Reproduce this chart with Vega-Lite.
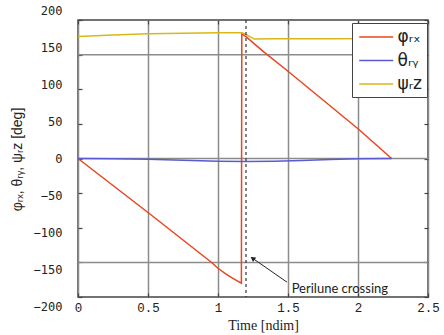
{
  "$schema": "https://vega.github.io/schema/vega-lite/v6.json",
  "width": 350,
  "height": 277,
  "autosize": {"type": "none"},
  "padding": {"left": 78, "top": 20, "right": 16, "bottom": 38},
  "background": "white",
  "config": {
    "view": {"stroke": "#444444", "strokeWidth": 1.5},
    "axis": {"domain": false, "tickColor": "#444444", "tickWidth": 1.2, "tickSize": -4, "labelColor": "#222222", "titleColor": "#222222", "titleFontWeight": "normal"}
  },
  "datasets": {
    "lines": [
      {"t": 0, "v": 0, "s": "φᵣₓ"},
      {"t": 0.5, "v": -78, "s": "φᵣₓ"},
      {"t": 0.95, "v": -149.5, "s": "φᵣₓ"},
      {"t": 1.0, "v": -158.5, "s": "φᵣₓ"},
      {"t": 1.05, "v": -166, "s": "φᵣₓ"},
      {"t": 1.1, "v": -172.5, "s": "φᵣₓ"},
      {"t": 1.167, "v": -180, "s": "φᵣₓ"},
      {"t": 1.17, "v": 180, "s": "φᵣₓ"},
      {"t": 1.2, "v": 176, "s": "φᵣₓ"},
      {"t": 1.32, "v": 155, "s": "φᵣₓ"},
      {"t": 1.5, "v": 126, "s": "φᵣₓ"},
      {"t": 2.0, "v": 43, "s": "φᵣₓ"},
      {"t": 2.24, "v": 0, "s": "φᵣₓ"},
      {"t": 0, "v": 0, "s": "θᵣᵧ"},
      {"t": 0.25, "v": -0.4, "s": "θᵣᵧ"},
      {"t": 0.5, "v": -1, "s": "θᵣᵧ"},
      {"t": 0.75, "v": -2.5, "s": "θᵣᵧ"},
      {"t": 1.0, "v": -3.8, "s": "θᵣᵧ"},
      {"t": 1.2, "v": -4.3, "s": "θᵣᵧ"},
      {"t": 1.4, "v": -4, "s": "θᵣᵧ"},
      {"t": 1.6, "v": -3, "s": "θᵣᵧ"},
      {"t": 1.8, "v": -1.5, "s": "θᵣᵧ"},
      {"t": 2.0, "v": -0.3, "s": "θᵣᵧ"},
      {"t": 2.24, "v": 0, "s": "θᵣᵧ"},
      {"t": 0, "v": 176, "s": "ψᵣz"},
      {"t": 0.25, "v": 178.5, "s": "ψᵣz"},
      {"t": 0.5, "v": 180, "s": "ψᵣz"},
      {"t": 0.75, "v": 181, "s": "ψᵣz"},
      {"t": 1.0, "v": 181.5, "s": "ψᵣz"},
      {"t": 1.17, "v": 181.5, "s": "ψᵣz"},
      {"t": 1.2, "v": 179, "s": "ψᵣz"},
      {"t": 1.26, "v": 172.5, "s": "ψᵣz"},
      {"t": 1.4, "v": 172.8, "s": "ψᵣz"},
      {"t": 1.8, "v": 173, "s": "ψᵣz"},
      {"t": 2.24, "v": 173.3, "s": "ψᵣz"}
    ],
    "hgrid": [{"g": -150}, {"g": 0}, {"g": 150}],
    "vline": [{"x": 1.2}],
    "arrow": [{"t1": 1.493, "v1": -178.6, "t2": 1.236, "v2": -142.5}],
    "head": [{"t": 1.252, "v": -145}],
    "note": [{"t": 1.526, "v": -188.7, "label": "Perilune crossing"}]
  },
  "layer": [
    {
      "data": {"name": "hgrid"},
      "mark": {"type": "rule", "color": "#8c8c8c", "strokeWidth": 1.5},
      "encoding": {
        "y": {
          "field": "g", "type": "quantitative",
          "scale": {"domain": [-200, 200], "nice": false},
          "axis": {"orient": "right", "labels": false, "title": null, "grid": false, "values": [-200, -150, -100, -50, 0, 50, 100, 150, 200]}
        }
      }
    },
    {
      "data": {"name": "lines"},
      "mark": {"type": "line", "strokeWidth": 1.5},
      "encoding": {
        "x": {
          "field": "t", "type": "quantitative",
          "scale": {"domain": [0, 2.5], "nice": false},
          "axis": {
            "orient": "bottom", "values": [0, 0.5, 1, 1.5, 2, 2.5], "format": "",
            "grid": true, "gridColor": "#8c8c8c", "gridWidth": 1.5,
            "labelFont": "Liberation Mono", "labelFontSize": 12.5, "labelPadding": 8, "labelFlush": false,
            "title": "Time [ndim]", "titleFont": "Liberation Serif", "titleFontSize": 14,
            "titleX": 185, "titleY": 32, "titleBaseline": "alphabetic", "titleAlign": "center"
          }
        },
        "y": {
          "field": "v", "type": "quantitative",
          "scale": {"domain": [-200, 200], "nice": false},
          "axis": {
            "orient": "left", "values": [-200, -150, -100, -50, 0, 50, 100, 150, 200], "grid": false,
            "labelFont": "DejaVu Sans Mono", "labelFontSize": 12, "labelPadding": 20,
            "labelOffset": {
              "condition": [
                {"test": "datum.value == 200", "value": -9.6},
                {"test": "datum.value == 150", "value": -7.2},
                {"test": "datum.value == 100", "value": -4.8},
                {"test": "datum.value == 50", "value": -2.4},
                {"test": "datum.value == -50", "value": 2.4},
                {"test": "datum.value == -100", "value": 4.8},
                {"test": "datum.value == -150", "value": 7.2},
                {"test": "datum.value == -200", "value": 9.6}
              ],
              "value": 0
            },
            "title": "φᵣₓ, θᵣᵧ, ψᵣz [deg]", "titleFont": "Liberation Sans", "titleFontSize": 14,
            "titleX": -61, "titleY": 139, "titleBaseline": "middle", "titleAlign": "center", "titleAngle": -90
          }
        },
        "color": {
          "field": "s", "type": "nominal",
          "scale": {"domain": ["φᵣₓ", "θᵣᵧ", "ψᵣz"], "range": ["#e8461e", "#5a5ad2", "#d8b818"]},
          "legend": {
            "title": null, "orient": "none", "legendX": 274, "legendY": 3,
            "symbolType": "M-0.8,0H3.2", "symbolSize": 289, "symbolStrokeWidth": 1.6,
            "labelFont": "DejaVu Sans", "labelFontSize": 17, "labelColor": "#222222", "labelOffset": 22,
            "rowPadding": 5.5, "padding": 4.5,
            "strokeColor": "#444444", "fillColor": "white"
          }
        }
      }
    },
    {
      "data": {"name": "vline"},
      "mark": {"type": "rule", "color": "#333333", "strokeWidth": 1.2, "strokeDash": [3, 3]},
      "encoding": {
        "x": {
          "field": "x", "type": "quantitative",
          "scale": {"domain": [0, 2.5], "nice": false},
          "axis": {"orient": "top", "labels": false, "title": null, "grid": false, "values": [0, 0.5, 1, 1.5, 2, 2.5]}
        }
      }
    },
    {
      "data": {"name": "arrow"},
      "mark": {"type": "rule", "color": "#222222", "strokeWidth": 1},
      "encoding": {
        "x": {"field": "t1", "type": "quantitative", "axis": null},
        "y": {"field": "v1", "type": "quantitative", "axis": null},
        "x2": {"field": "t2"},
        "y2": {"field": "v2"}
      }
    },
    {
      "data": {"name": "head"},
      "mark": {"type": "point", "shape": "triangle", "filled": true, "color": "#222222", "size": 30, "angle": 305, "opacity": 1},
      "encoding": {
        "x": {"field": "t", "type": "quantitative", "axis": null},
        "y": {"field": "v", "type": "quantitative", "axis": null}
      }
    },
    {
      "data": {"name": "note"},
      "mark": {"type": "text", "align": "left", "baseline": "middle", "font": "Lato", "fontSize": 13, "color": "#222222"},
      "encoding": {
        "x": {"field": "t", "type": "quantitative", "axis": null},
        "y": {"field": "v", "type": "quantitative", "axis": null},
        "text": {"field": "label"}
      }
    }
  ],
  "resolve": {"axis": {"x": "independent", "y": "independent"}}
}
